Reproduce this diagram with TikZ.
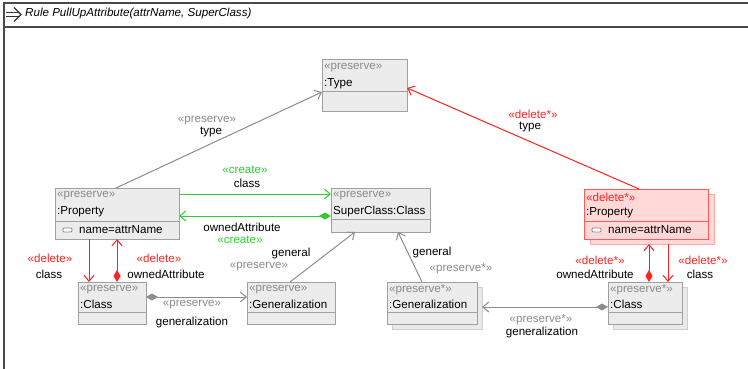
\documentclass[tikz,border=0pt]{standalone}
\usepackage{fontspec}
\setmainfont{Liberation Sans}
\usetikzlibrary{arrows.meta,calc}

\definecolor{boxfill}{HTML}{ECECEC}
\definecolor{boxline}{HTML}{A0A0A0}
\definecolor{shadowfill}{HTML}{E9E9E9}
\definecolor{shadowline}{HTML}{CFCFCF}
\definecolor{stereogray}{HTML}{8A8A8A}
\definecolor{edgegray}{HTML}{8C8C8C}
\definecolor{delred}{HTML}{FF2020}
\definecolor{delfill}{HTML}{FFD8D8}
\definecolor{delline}{HTML}{FF5A5A}
\definecolor{delshadow}{HTML}{FFA8A8}
\definecolor{creategreen}{HTML}{2FCC2F}
\definecolor{framegray}{HTML}{4A4A4A}

\tikzset{
  vtip/.tip={Straight Barb[length=6pt,width=10pt,line width=1pt]},
  dtip/.tip={Diamond[length=12pt,width=7pt]},
}

\begin{document}
\begin{tikzpicture}[x=1pt,y=-1pt,
  font=\fontsize{11.6}{13}\selectfont,
  box/.style={draw=boxline, fill=boxfill, line width=1pt, inner sep=0pt, outer sep=0pt, anchor=north west},
  shadowbox/.style={draw=shadowline, fill=shadowfill, line width=1pt, inner sep=0pt, outer sep=0pt, anchor=north west},
  delbox/.style={draw=delline, fill=delfill, line width=1pt, inner sep=0pt, outer sep=0pt, anchor=north west},
  delshadowbox/.style={draw=delshadow, fill=delfill, line width=1pt, inner sep=0pt, outer sep=0pt, anchor=north west},
  sepline/.style={draw=boxline, line width=1pt},
  delsep/.style={draw=delline, line width=1pt},
  stereo/.style={anchor=west, inner sep=0pt, text=stereogray},
  delstereo/.style={anchor=west, inner sep=0pt, text=delred},
  objname/.style={anchor=west, inner sep=0pt, text=black},
  lbl/.style={inner sep=0pt, text=black},
  glbl/.style={inner sep=0pt, text=stereogray},
  rlbl/.style={inner sep=0pt, text=delred},
  clbl/.style={inner sep=0pt, text=creategreen},
  grayedge/.style={draw=edgegray, line width=1pt},
  rededge/.style={draw=delred, line width=1pt},
  greenedge/.style={draw=creategreen, line width=1pt},
]
\useasboundingbox (0,0) rectangle (748,369);

% rule frame
\draw[framegray, line width=1.5pt] (4,369) -- (4,3) -- (748,3);
\draw[framegray, line width=1.5pt] (4,27) -- (748,27);
\draw[black!80, line width=1.1pt] (6,12.5) -- (19,12.5) (6,16.5) -- (19,16.5);
\draw[black!80, line width=1.1pt] (14,7.5) -- (21,14.5) -- (14,21.5);
\node[anchor=west, inner sep=0pt, font=\fontsize{11.6}{13}\selectfont\itshape] (title) at (25,14) {Rule PullUpAttribute(attrName, SuperClass)};

% :Type
\node[box, minimum width=85pt, minimum height=52pt] (type) at (322,60) {};
\draw[sepline] ($(type.north west)+(0,32)$) -- ($(type.north east)+(0,32)$);
\node[stereo] at ($(type.north west)+(2,8)$) {«preserve»};
\node[objname] at ($(type.north west)+(2,24)$) {:Type};

% :Property (left)
\node[box, minimum width=124pt, minimum height=51pt] (prop) at (55,188) {};
\draw[sepline] ($(prop.north west)+(0,33)$) -- ($(prop.north east)+(0,33)$);
\node[stereo] at ($(prop.north west)+(2,8)$) {«preserve»};
\node[objname] at ($(prop.north west)+(2,24)$) {:Property};
\draw[draw=stereogray, fill=white, rounded corners=1pt, line width=0.8pt] ($(prop.north west)+(8,40)$) rectangle ($(prop.north west)+(17,44)$);
\node[objname] at ($(prop.north west)+(24,42)$) {name=attrName};

% SuperClass:Class
\node[box, minimum width=99pt, minimum height=44pt] (sup) at (331,188) {};
\draw[sepline] ($(sup.north west)+(0,31)$) -- ($(sup.north east)+(0,31)$);
\node[stereo] at ($(sup.north west)+(2,8)$) {«preserve»};
\node[objname] at ($(sup.north west)+(2,24)$) {SuperClass:Class};

% :Property (right, multi-object)
\node[delshadowbox, minimum width=124pt, minimum height=50pt] (rpropS) at (590,194) {};
\node[delbox, minimum width=124pt, minimum height=50pt] (rprop) at (584,189) {};
\draw[delsep] ($(rprop.north west)+(0,32)$) -- ($(rprop.north east)+(0,32)$);
\node[delstereo] at ($(rprop.north west)+(2,8)$) {«delete*»};
\node[objname] at ($(rprop.north west)+(2,24)$) {:Property};
\draw[draw=stereogray, fill=white, rounded corners=1pt, line width=0.8pt] ($(rprop.north west)+(8,39)$) rectangle ($(rprop.north west)+(17,43)$);
\node[objname] at ($(rprop.north west)+(24,41)$) {name=attrName};

% :Class (left)
\node[box, minimum width=68pt, minimum height=42pt] (cls) at (78,282) {};
\draw[sepline] ($(cls.north west)+(0,30)$) -- ($(cls.north east)+(0,30)$);
\node[stereo] at ($(cls.north west)+(2,8)$) {«preserve»};
\node[objname] at ($(cls.north west)+(2,22)$) {:Class};

% :Generalization (left)
\node[box, minimum width=88pt, minimum height=42pt] (gen) at (247,282) {};
\draw[sepline] ($(gen.north west)+(0,30)$) -- ($(gen.north east)+(0,30)$);
\node[stereo] at ($(gen.north west)+(2,8)$) {«preserve»};
\node[objname] at ($(gen.north west)+(2,22)$) {:Generalization};

% :Generalization (right, multi-object)
\node[shadowbox, minimum width=90pt, minimum height=42pt] (rgenS) at (392,287) {};
\node[box, minimum width=90pt, minimum height=42pt] (rgen) at (387,282) {};
\draw[sepline] ($(rgen.north west)+(0,30)$) -- ($(rgen.north east)+(0,30)$);
\node[stereo] at ($(rgen.north west)+(2,8)$) {«preserve*»};
\node[objname] at ($(rgen.north west)+(2,22)$) {:Generalization};

% :Class (right, multi-object)
\node[shadowbox, minimum width=74pt, minimum height=42pt] (rclsS) at (613,287) {};
\node[box, minimum width=74pt, minimum height=42pt] (rcls) at (608,282) {};
\draw[sepline] ($(rcls.north west)+(0,30)$) -- ($(rcls.north east)+(0,30)$);
\node[stereo] at ($(rcls.north west)+(2,8)$) {«preserve*»};
\node[objname] at ($(rcls.north west)+(2,22)$) {:Class};

% references
\draw[grayedge, -vtip] ($(prop.north west)+(61,0)$) -- ($(type.north west)+(0,32)$);
\node[glbl] (l1) at (207,121) {«preserve»};
\node[lbl] (l2) at (211,132) {type};

\draw[rededge, -vtip] ($(rprop.north west)+(55,0)$) -- ($(type.north east)+(0,28)$);
\node[rlbl] (l3) at (533,114) {«delete*»};
\node[lbl] (l4) at (530,127) {type};

\draw[greenedge, -vtip] ($(prop.north east)+(0,6)$) -- ($(sup.north west)+(0,6)$);
\node[clbl] (l5) at (245,170) {«create»};
\node[lbl] (l6) at (247,183) {class};

\draw[greenedge, dtip-vtip] ($(sup.north west)+(0,28)$) -- ($(prop.north east)+(0,28)$);
\node[lbl] (l7) at (242,227) {ownedAttribute};
\node[clbl] (l8) at (240,240) {«create»};

\draw[rededge, -vtip] ($(prop.south west)+(34,0)$) -- ($(cls.north west)+(11,0)$);
\node[rlbl] (l9) at (50,258) {«delete»};
\node[lbl] (l10) at (49,274) {class};

\draw[rededge, dtip-vtip] ($(cls.north west)+(39,0)$) -- ($(prop.south west)+(62,0)$);
\node[rlbl] (l11) at (159,258) {«delete»};
\node[lbl] (l12) at (166,274) {ownedAttribute};

\draw[grayedge, dtip-vtip] ($(cls.north east)+(0,15)$) -- ($(gen.north west)+(0,15)$);
\node[glbl] (l13) at (192,305) {«preserve»};
\node[lbl] (l14) at (192,322) {generalization};

\draw[grayedge, -vtip] ($(gen.north west)+(43,0)$) -- ($(sup.south west)+(24,0)$);
\node[lbl] (l15) at (291,254) {general};
\node[glbl] (l16) at (259,267) {«preserve»};

\draw[grayedge, -vtip] ($(rgen.north west)+(35,0)$) -- ($(sup.south west)+(67,0)$);
\node[lbl] (l17) at (432,252) {general};
\node[glbl] (l18) at (461,269) {«preserve*»};

\draw[grayedge, dtip-vtip] ($(rcls.north west)+(0,25)$) -- ($(rgenS.north east)+(0,20)$);
\node[glbl] (l19) at (541,320) {«preserve*»};
\node[lbl] (l20) at (542,332) {generalization};

\draw[rededge, dtip-vtip] ($(rcls.north west)+(41,0)$) -- ($(rpropS.south west)+(59,0)$);
\node[rlbl] (l21) at (600,260) {«delete*»};
\node[lbl] (l22) at (595,274) {ownedAttribute};

\draw[rededge, -vtip] ($(rpropS.south west)+(78,0)$) -- ($(rcls.north west)+(60,0)$);
\node[rlbl] (l23) at (703,260) {«delete*»};
\node[lbl] (l24) at (700,274) {class};
\end{tikzpicture}
\end{document}
